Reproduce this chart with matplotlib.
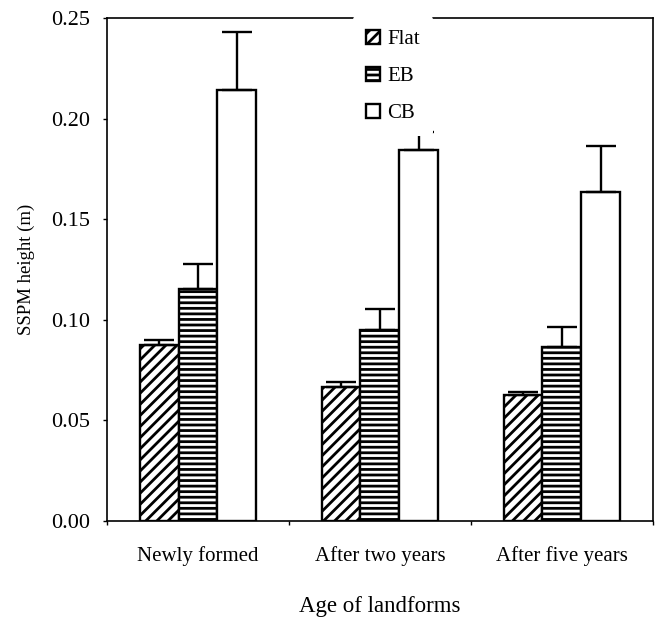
import numpy as np
from matplotlib import pyplot as plt

plt.rcParams['font.family'] = ['Liberation Serif', 'DejaVu Serif']
plt.rcParams['hatch.linewidth'] = 2.0

categories = ['Newly formed', 'After two years', 'After five years']
series = ['Flat', 'EB', 'CB']
flat = [0.0875, 0.0668, 0.0626]
flat_err = [0.0025, 0.0024, 0.0017]
eb = [0.1153, 0.0949, 0.0865]
eb_err = [0.0123, 0.0103, 0.0099]
cb = [0.2142, 0.1844, 0.1634]
cb_err = [0.0287, 0.0091, 0.0231]

values = [flat, eb, cb]
errors = [flat_err, eb_err, cb_err]
hatches = ['///', '---', '']

fig = plt.figure(figsize=(6.56, 6.25), dpi=100)
ax = fig.add_axes([0.163, 0.1664, 0.832, 0.8046])

x = np.arange(len(categories))
w = 0.213
for i, (vals, errs) in enumerate(zip(values, errors)):
    ax.bar(x + (i - 1) * w, vals, w, yerr=[np.zeros(3), errs],
           color='white', edgecolor='black', linewidth=1.7, hatch=hatches[i],
           label=series[i], error_kw=dict(ecolor='black', elinewidth=1.7,
                                          capsize=11, capthick=1.7))

ax.set_xlim(-0.5, 2.5)
ax.set_ylim(0, 0.25)
ticks = np.arange(0, 0.26, 0.05)
ax.set_yticks(ticks)
ax.set_yticklabels(['%.2f' % v for v in ticks], fontsize=16)
ax.set_xticks([-0.5, 0.5, 1.5, 2.5])
ax.set_xticklabels([])
ax.set_xticks(x, minor=True)
ax.set_xticklabels(categories, minor=True, fontsize=15)
ax.tick_params(axis='x', which='minor', length=0, pad=18)
ax.tick_params(axis='both', which='major', direction='out', length=3, width=1)
ax.tick_params(axis='y', pad=9)
for s in ax.spines.values():
    s.set_linewidth(1.2)

ax.set_ylabel('SSPM height (m)', fontsize=13.5, labelpad=12)
ax.set_xlabel('Age of landforms', fontsize=16.5, labelpad=22)

# legend box is opaque and sits over the top spine, leaving a gap as in the original
leg = ax.legend(loc='upper left', bbox_to_anchor=(0.4505, 1.004), frameon=True,
                fontsize=15, handlelength=0.65, handleheight=0.65,
                handletextpad=0.35, labelspacing=0.85, borderpad=0.65,
                borderaxespad=0)
leg.get_frame().set_edgecolor('white')
leg.get_frame().set_linewidth(0)
leg.get_frame().set_alpha(1)
leg.set_zorder(5)

fig.savefig('out.png', dpi=100)
